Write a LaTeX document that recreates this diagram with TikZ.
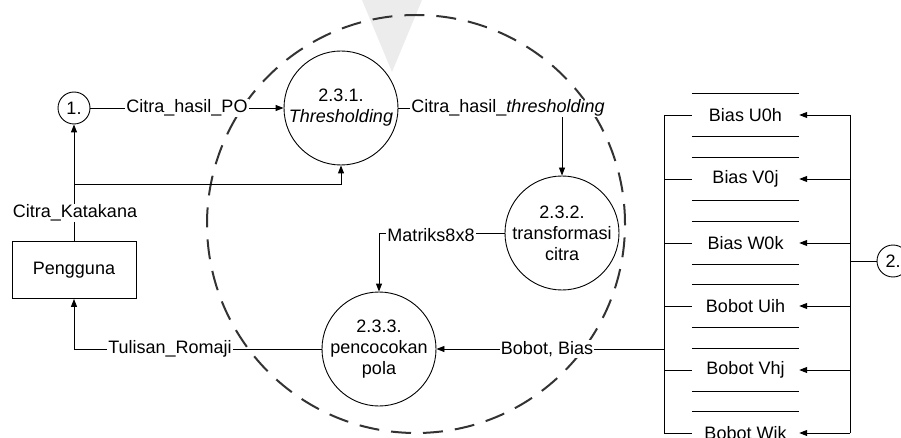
\documentclass[tikz,border=0pt]{standalone}
\usepackage{fontspec}
\setmainfont{Liberation Sans}
\usetikzlibrary{arrows.meta,calc}
\begin{document}
\begin{tikzpicture}[x=1pt,y=-1pt,
  every node/.style={font=\fontsize{18}{21}\selectfont},
  proc/.style={circle,draw,line width=0.9pt,minimum size=114pt,inner sep=0pt,align=center},
  ext/.style={circle,draw,line width=0.9pt,minimum size=32pt,inner sep=0pt},
  entity/.style={draw,line width=0.9pt,minimum width=124pt,minimum height=57pt},
  store/.style={minimum width=107pt,minimum height=42pt,inner sep=0pt},
  wire/.style={line width=0.9pt},
  flow/.style={wire,-{Triangle[length=8pt,width=6pt]}},
  lbl/.style={fill=white,inner sep=1pt},
  boundary/.style={line width=2pt,black!80,dash pattern=on 20pt off 12pt},
  ]
\useasboundingbox (0,0) rectangle (901,438);

% faint wedge behind the first process
\fill[gray!15] (362,0) -- (422,0) -- (392,72) -- cycle;

% process boundary
\draw[boundary] (416,224) circle [radius=209pt];

% bus positions
\coordinate (lb) at (664,0);
\coordinate (rb) at (850,0);

% entities and processes
\node[ext] (e1) at (74,108) {1.};
\node[entity] (user) at (74,270) {Pengguna};
\node[proc] (p1) at (341,108) {2.3.1.\\\textit{Thresholding}};
\node[proc] (p2) at (562,233) {2.3.2.\\transformasi\\citra};
\node[proc] (p3) at (379,349) {2.3.3.\\pencocokan\\pola};
\node[ext] (e2) at (893,261) {2.};

% data stores
\node[store] (s1) at (745.5,115) {Bias U0h};
\node[store] (s2) at (745.5,179) {Bias V0j};
\node[store] (s3) at (745.5,243) {Bias W0k};
\node[store] (s4) at (745.5,306) {Bobot Uih};
\node[store] (s5) at (745.5,370) {Bobot Vhj};
\node[store] (s6) at (745.5,433) {Bobot Wik};
\foreach \s in {s1,s2,s3,s4,s5,s6}{
  \draw[wire] (\s.north west) -- (\s.north east);
  \draw[wire] (\s.south west) -- (\s.south east);
  \draw[wire] (\s.west) -- (\s.west -| lb);
  \draw[flow] (\s.east -| rb) -- (\s.east);
}
\draw[wire] (s1.west -| lb) -- (s6.west -| lb);
\draw[wire] (s1.east -| rb) -- (s6.east -| rb);
\draw[wire] (e2.west) -- (e2.west -| rb);

% flows
\coordinate (split) at (74,184);
\draw[flow] (user.north) -- (e1.south);
\draw[flow] (split) -| (p1.south);
\draw[flow] (e1.east) -- (p1.west);
\draw[flow] (p1.east) -| (p2.north);
\draw[flow] (p2.west) -| (p3.north);
\draw[flow] (p3.east -| lb) -- (p3.east);
\draw[flow] (p3.west) -| (user.south);

% flow labels
\node[lbl] (lk) at (75,213) {Citra\_Katakana};
\node[lbl] (lpo) at (187,108) {Citra\_hasil\_PO};
\node[lbl] (lth) at (508,108) {Citra\_hasil\_\textit{thresholding}};
\node[lbl] (lm) at (431,235) {Matriks8x8};
\node[lbl] (lbb) at (547,349) {Bobot, Bias};
\node[lbl] (lr) at (170,349) {Tulisan\_Romaji};
\end{tikzpicture}
\end{document}
